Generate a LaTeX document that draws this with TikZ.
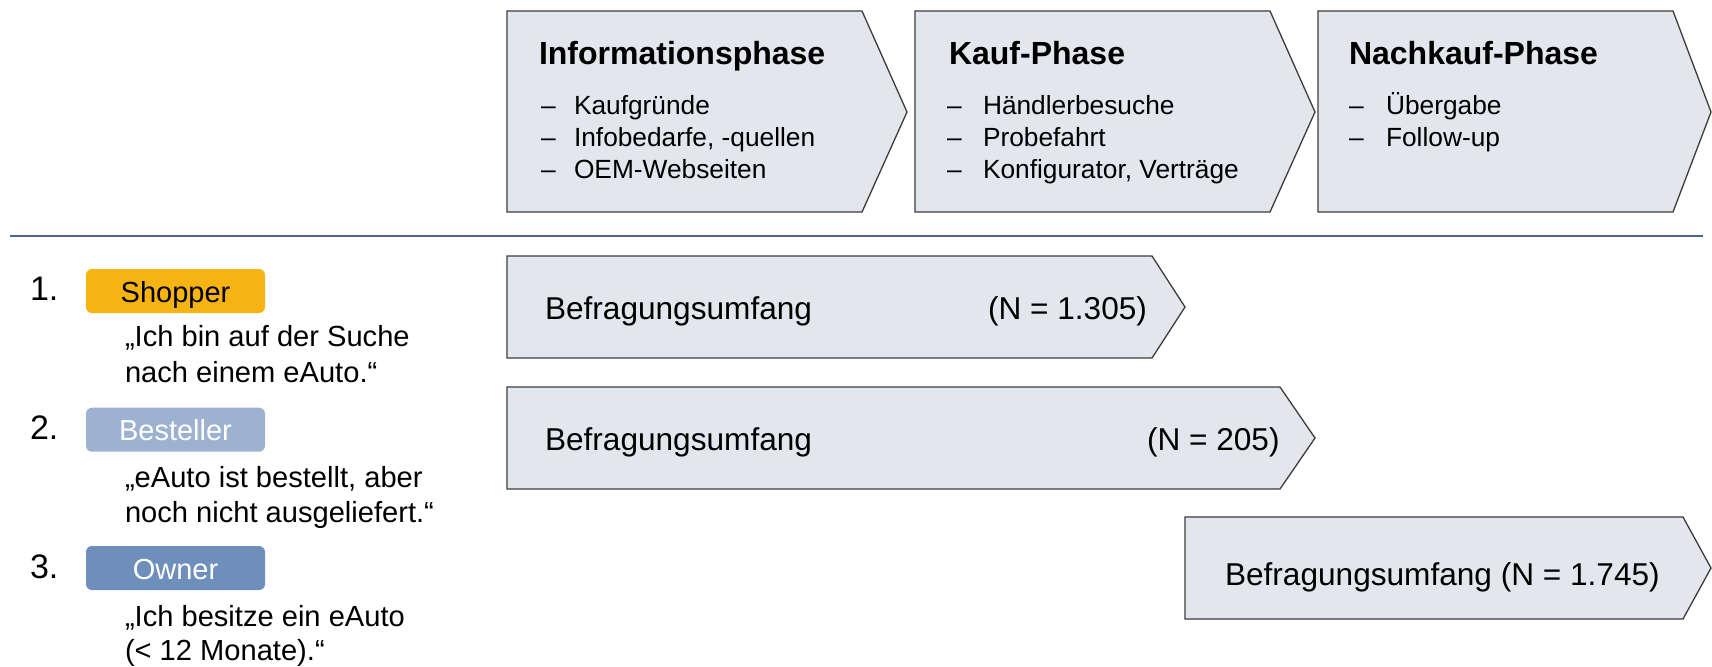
\documentclass[tikz,border=0pt]{standalone}
\usepackage{fontspec}
\setmainfont{Liberation Sans}
\definecolor{boxfill}{HTML}{E3E6EC}
\definecolor{boxline}{HTML}{3C3C3C}
\definecolor{sepline}{HTML}{4F6587}
\definecolor{shopper}{HTML}{F5B414}
\definecolor{besteller}{HTML}{9DB1D1}
\definecolor{owner}{HTML}{6E8EBB}
\begin{document}
\begin{tikzpicture}[x=0.5pt,y=-0.5pt,
  shapebox/.style={draw=boxline, fill=boxfill, line width=0.65pt, line join=miter},
  txt/.style={anchor=base west, inner sep=0pt, outer sep=0pt},
  head/.style={txt, font=\fontsize{16}{19}\selectfont\bfseries},
  item/.style={txt, font=\fontsize{13.15}{16}\selectfont},
  bef/.style={txt, font=\fontsize{15.8}{19}\selectfont},
  num/.style={txt, font=\fontsize{17}{20}\selectfont},
  quote/.style={txt, font=\fontsize{14.55}{17.5}\selectfont},
  badge/.style={rounded corners=3pt, minimum width=89.5pt, minimum height=22pt,
    inner sep=0pt, text height=13pt, text depth=2pt, font=\fontsize{14.5}{17}\selectfont}
]
\useasboundingbox (0,0) rectangle (1712,666);

% phase chevrons
\draw[shapebox] (507,11) -- (862,11) -- (907,112) -- (862,212) -- (507,212) -- cycle;
\draw[shapebox] (915,11) -- (1270,11) -- (1315,112) -- (1270,212) -- (915,212) -- cycle;
\draw[shapebox] (1318,11) -- (1673,11) -- (1711,112) -- (1673,212) -- (1318,212) -- cycle;

\node[head] (h1) at (539,64) {Informationsphase};
\node[item] (d1a) at (541,114) {–};
\node[item] (i1a) at (574,114) {Kaufgründe};
\node[item] (d1b) at (541,146) {–};
\node[item] (i1b) at (574,146) {Infobedarfe, -quellen};
\node[item] (d1c) at (541,178) {–};
\node[item] (i1c) at (574,178) {OEM-Webseiten};

\node[head] (h2) at (949,64) {Kauf-Phase};
\node[item] (d2a) at (947,114) {–};
\node[item] (i2a) at (983,114) {Händlerbesuche};
\node[item] (d2b) at (947,146) {–};
\node[item] (i2b) at (983,146) {Probefahrt};
\node[item] (d2c) at (947,178) {–};
\node[item] (i2c) at (983,178) {Konfigurator, Verträge};

\node[head] (h3) at (1349,64) {Nachkauf-Phase};
\node[item] (d3a) at (1349,114) {–};
\node[item] (i3a) at (1386,114) {Übergabe};
\node[item] (d3b) at (1349,146) {–};
\node[item] (i3b) at (1386,146) {Follow-up};

% separator
\draw[sepline, line width=1pt] (10,236) -- (1703,236);

% survey chevrons
\draw[shapebox] (507,256) -- (1152,256) -- (1185,307) -- (1152,358) -- (507,358) -- cycle;
\draw[shapebox] (507,387) -- (1280,387) -- (1315,438) -- (1280,489) -- (507,489) -- cycle;
\draw[shapebox] (1185,517) -- (1683,517) -- (1711,568) -- (1683,619) -- (1185,619) -- cycle;

\node[bef] (ba) at (545,319.5) {Befragungsumfang};
\node[bef] (na) at (988,319.5) {(N = 1.305)};
\node[bef] (bb) at (545,450) {Befragungsumfang};
\node[bef] (nb) at (1147,450) {(N = 205)};
\node[bef] (bc) at (1225,585) {Befragungsumfang (N = 1.745)};

% left legend
\node[num] (n1) at (30,300) {1.};
\node[badge, fill=shopper, text=black] (s1) at (175.5,291) {Shopper};
\node[quote] (q1a) at (125,346.7) {„Ich bin auf der Suche};
\node[quote] (q1b) at (125,382.7) {nach einem eAuto.“};

\node[num] (n2) at (30,439.5) {2.};
\node[badge, fill=besteller, text=white] (s2) at (175.5,429.7) {Besteller};
\node[quote] (q2a) at (125,487.3) {„eAuto ist bestellt, aber};
\node[quote] (q2b) at (125,522.7) {noch nicht ausgeliefert.“};

\node[num] (n3) at (30,578.5) {3.};
\node[badge, fill=owner, text=white] (s3) at (175.5,568) {Owner};
\node[quote] (q3a) at (125,626) {„Ich besitze ein eAuto};
\node[quote] (q3b) at (125,660) {(< 12 Monate).“};
\end{tikzpicture}
\end{document}
